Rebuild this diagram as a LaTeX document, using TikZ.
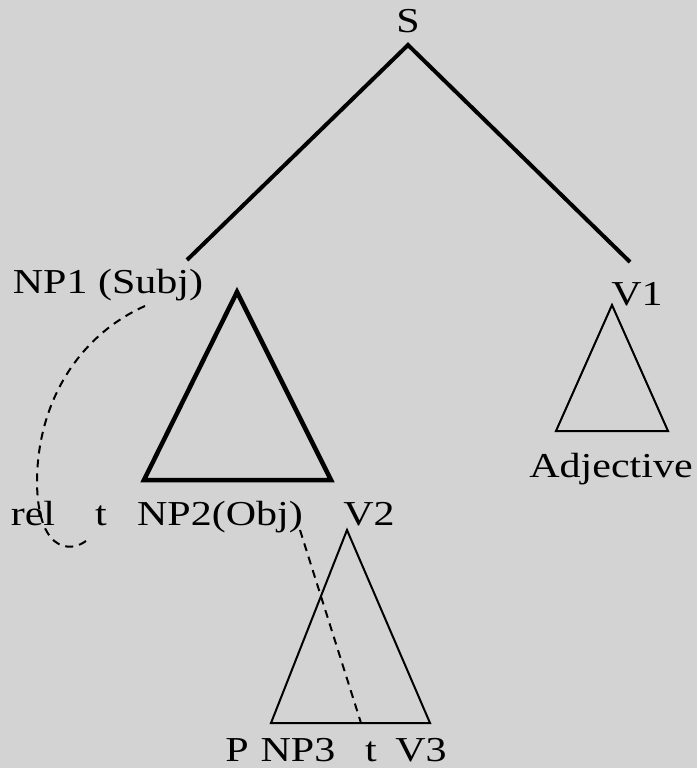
\documentclass[tikz,border=0pt]{standalone}
\usepackage{fontspec}
\setmainfont{Liberation Serif}[FakeStretch=1.2]
\usepackage{xcolor}
\usepackage{tikz}
\usetikzlibrary{positioning, calc, backgrounds}

\definecolor{bggray}{RGB}{211,211,211}

\begin{document}
\begin{tikzpicture}[
    x=1pt, y=-1pt,
    lab/.style={anchor=base, inner sep=0pt, font=\fontsize{35}{40}\selectfont},
    branch/.style={line width=4pt},
    thicktri/.style={line width=4.5pt, line join=miter},
    thintri/.style={line width=2pt, line join=miter},
    trace/.style={dash pattern=on 8pt off 6pt, line width=2pt},
]

% background and margins
\fill[bggray] (0,0) rectangle (697,768);
\useasboundingbox (0,0) rectangle (697,768);

% labels
\node[lab] (s) at (408, 33) {S};
\node[lab] (np1) at (108, 293) {NP1 (Subj)};
\node[lab] (v1) at (637, 305) {V1};
\node[lab] (adj) at (611, 477) {Adjective};
\node[lab] (rel) at (33, 525) {rel};
\node[lab] (t1) at (101, 525) {t};
\node[lab] (np2) at (220, 525) {NP2(Obj)};
\node[lab] (v2) at (369, 525) {V2};
\node[lab] (p) at (237, 761) {P};
\node[lab] (np3) at (298, 761) {NP3};
\node[lab] (t2) at (371, 761) {t};
\node[lab] (v3) at (421, 761) {V3};

% branch ends
\coordinate (s-root) at (408, 45);
\coordinate (np1-top) at (187, 260);
\coordinate (v1-top) at (630, 262);

% branches
\draw[branch] (np1-top) -- (s-root) -- (v1-top);

% triangle under NP1
\coordinate (tri1-a) at (237, 292);
\coordinate (tri1-l) at (144, 480);
\coordinate (tri1-r) at (331, 480);
\draw[thicktri] (tri1-a) -- (tri1-l) -- (tri1-r) -- cycle;

% triangle under V1
\coordinate (tri2-a) at (612, 305);
\coordinate (tri2-l) at (556, 431);
\coordinate (tri2-r) at (668, 431);
\draw[thintri] (tri2-a) -- (tri2-l) -- (tri2-r) -- cycle;

% triangle under V2
\coordinate (tri3-a) at (347, 530);
\coordinate (tri3-l) at (271, 723);
\coordinate (tri3-r) at (430, 723);
\draw[thintri] (tri3-a) -- (tri3-l) -- (tri3-r) -- cycle;

% traces
\coordinate (subj-end) at (145, 306);
\coordinate (rel-mid) at (37, 480);
\coordinate (t1-end) at (90, 537);
\draw[trace] (subj-end) .. controls (80, 335) and (38, 400) .. (rel-mid)
    .. controls (37, 560) and (78, 552) .. (t1-end);

\coordinate (obj-end) at (300, 530);
\coordinate (t2-end) at (361, 723);
\draw[trace] (obj-end) -- (t2-end);

\end{tikzpicture}
\end{document}
